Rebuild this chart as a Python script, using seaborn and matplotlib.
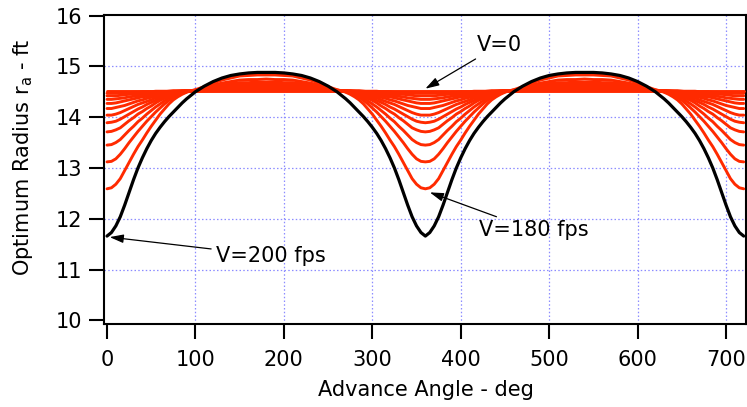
import numpy as np
import pandas as pd
import matplotlib
matplotlib.use("Agg")
import matplotlib.pyplot as plt
import seaborn as sns

# Advance angle samples over one half period (deg); every curve is symmetric
# about 180 deg and repeats every 360 deg.
half_angle = [0, 5, 10, 15, 20, 25, 30, 35, 40, 45, 50, 55, 60, 65, 70, 75,
              80, 85, 90, 95, 100, 110, 120, 130, 140, 150, 160, 170, 180]

# Optimum radius r_a (ft) for the family of speeds, V=0 (flat) up to V=180 fps
ra_red_00 = [14.52] * 29
ra_red_01 = [14.47, 14.47, 14.47, 14.48, 14.48, 14.48, 14.49, 14.49, 14.50, 14.50, 14.50, 14.51, 14.51, 14.51, 14.51,
             14.52, 14.52, 14.52, 14.52, 14.52, 14.52, 14.52, 14.52, 14.53, 14.53, 14.53, 14.53, 14.53, 14.53]
ra_red_02 = [14.42, 14.42, 14.42, 14.43, 14.44, 14.45, 14.46, 14.46, 14.47, 14.48, 14.48, 14.49, 14.50, 14.50, 14.51,
             14.51, 14.51, 14.52, 14.52, 14.52, 14.52, 14.52, 14.53, 14.53, 14.53, 14.53, 14.54, 14.54, 14.54]
ra_red_03 = [14.35, 14.35, 14.36, 14.37, 14.38, 14.40, 14.41, 14.42, 14.43, 14.45, 14.46, 14.47, 14.48, 14.49, 14.50,
             14.50, 14.51, 14.51, 14.52, 14.52, 14.52, 14.53, 14.53, 14.54, 14.54, 14.54, 14.55, 14.55, 14.55]
ra_red_04 = [14.27, 14.27, 14.28, 14.30, 14.32, 14.34, 14.36, 14.38, 14.40, 14.41, 14.43, 14.45, 14.46, 14.47, 14.49,
             14.50, 14.50, 14.51, 14.52, 14.52, 14.52, 14.53, 14.54, 14.55, 14.55, 14.56, 14.56, 14.56, 14.56]
ra_red_05 = [14.17, 14.17, 14.19, 14.21, 14.23, 14.26, 14.29, 14.32, 14.34, 14.37, 14.39, 14.41, 14.44, 14.46, 14.47,
             14.49, 14.50, 14.51, 14.51, 14.52, 14.52, 14.54, 14.55, 14.56, 14.57, 14.57, 14.57, 14.58, 14.58]
ra_red_06 = [14.04, 14.04, 14.06, 14.09, 14.13, 14.17, 14.21, 14.25, 14.28, 14.31, 14.34, 14.38, 14.40, 14.43, 14.46,
             14.47, 14.49, 14.50, 14.51, 14.52, 14.52, 14.54, 14.56, 14.57, 14.58, 14.59, 14.59, 14.60, 14.60]
ra_red_07 = [13.89, 13.90, 13.92, 13.96, 14.01, 14.06, 14.11, 14.16, 14.20, 14.25, 14.29, 14.33, 14.37, 14.40, 14.43,
             14.46, 14.48, 14.50, 14.51, 14.52, 14.52, 14.55, 14.57, 14.59, 14.60, 14.61, 14.62, 14.62, 14.62]
ra_red_08 = [13.71, 13.72, 13.75, 13.79, 13.86, 13.93, 13.99, 14.06, 14.11, 14.17, 14.22, 14.28, 14.33, 14.37, 14.41,
             14.44, 14.47, 14.49, 14.51, 14.52, 14.53, 14.56, 14.58, 14.61, 14.63, 14.64, 14.65, 14.65, 14.65]
ra_red_09 = [13.45, 13.46, 13.50, 13.56, 13.65, 13.74, 13.82, 13.91, 13.98, 14.06, 14.13, 14.20, 14.26, 14.32, 14.38,
             14.42, 14.46, 14.48, 14.50, 14.52, 14.53, 14.57, 14.60, 14.64, 14.66, 14.68, 14.68, 14.69, 14.69]
ra_red_10 = [13.12, 13.13, 13.18, 13.27, 13.38, 13.50, 13.61, 13.72, 13.82, 13.92, 14.01, 14.10, 14.18, 14.26, 14.33,
             14.39, 14.44, 14.47, 14.50, 14.52, 14.53, 14.58, 14.63, 14.67, 14.70, 14.73, 14.74, 14.74, 14.75]
ra_red_11 = [12.59, 12.61, 12.68, 12.79, 12.95, 13.11, 13.27, 13.42, 13.55, 13.69, 13.82, 13.94, 14.06, 14.16, 14.26,
             14.34, 14.40, 14.45, 14.49, 14.52, 14.54, 14.60, 14.67, 14.73, 14.77, 14.81, 14.82, 14.83, 14.83]

# V=200 fps
ra_black = [11.66, 11.73, 11.86, 12.04, 12.27, 12.52, 12.77, 13.00, 13.20, 13.38, 13.54, 13.68, 13.80, 13.91, 14.01,
            14.10, 14.19, 14.28, 14.36, 14.43, 14.50, 14.61, 14.70, 14.77, 14.82, 14.85, 14.87, 14.88, 14.88]

x_ticks = [0, 100, 200, 300, 400, 500, 600, 700]
y_ticks = [10, 11, 12, 13, 14, 15, 16]

RED = "#ff2a00"
GRID = "#8c8cff"


def sweep(values):
    """Unfold a half-period curve into the 0..720 deg sweep."""
    ang = list(half_angle) + [360 - a for a in reversed(half_angle[:-1])]
    val = list(values) + list(reversed(values[:-1]))
    ang2 = ang + [360 + a for a in ang[1:]]
    val2 = val + val[1:]
    return ang2, val2


red_sets = [ra_red_00, ra_red_01, ra_red_02, ra_red_03, ra_red_04, ra_red_05,
            ra_red_06, ra_red_07, ra_red_08, ra_red_09, ra_red_10, ra_red_11]
frames = []
for i, vals in enumerate(red_sets):
    a, v = sweep(vals)
    frames.append(pd.DataFrame({"angle": a, "ra": v, "curve": f"c{i:02d}"}))
df_red = pd.concat(frames, ignore_index=True)
a, v = sweep(ra_black)
df_black = pd.DataFrame({"angle": a, "ra": v})

sns.set_style("ticks")
plt.rcParams["font.family"] = ["DejaVu Sans"]
plt.rcParams["mathtext.fontset"] = "dejavusans"
plt.rcParams["text.color"] = "black"
plt.rcParams["axes.labelcolor"] = "black"
plt.rcParams["xtick.color"] = "black"
plt.rcParams["ytick.color"] = "black"

fig = plt.figure(figsize=(7.47, 4.07), dpi=100)
ax = fig.add_axes([104 / 747, 1 - 324 / 407, 641.5 / 747, 309 / 407])

sns.lineplot(data=df_red, x="angle", y="ra", hue="curve", palette=[RED] * len(red_sets),
             estimator=None, sort=False, legend=False, linewidth=2.1, ax=ax, zorder=3)
sns.lineplot(data=df_black, x="angle", y="ra", color="black", estimator=None, sort=False,
             linewidth=2.3, ax=ax, zorder=4)

ax.set_xlim(-3.4, 722)
ax.set_ylim(9.93, 16.01)
ax.set_xticks(x_ticks)
ax.set_yticks(y_ticks)

# dotted grid, skipping the lines that would sit on the axes
for xv in x_ticks[1:]:
    ax.axvline(xv, color=GRID, linestyle=(0, (1.2, 1.8)), linewidth=0.9, zorder=1)
for yv in y_ticks[1:-1]:
    ax.axhline(yv, color=GRID, linestyle=(0, (1.2, 1.8)), linewidth=0.9, zorder=1)

for s in ax.spines.values():
    s.set_linewidth(1.5)
    s.set_color("black")
ax.tick_params(direction="out", length=10.5, width=1.5, labelsize=15, colors="black")
ax.tick_params(axis="x", pad=8)
ax.tick_params(axis="y", pad=5)

ax.set_xlabel("Advance Angle - deg", fontsize=15, color="black")
ax.set_ylabel(r"Optimum Radius r$_{\mathregular{a}}$ - ft", fontsize=15, color="black")
ax.xaxis.set_label_coords(0.502, -0.18)
ax.yaxis.set_label_coords(-0.108, 0.54)

arrow = dict(arrowstyle="-|>,head_length=0.55,head_width=0.17", color="black",
             lw=0.9, mutation_scale=15, shrinkA=1, shrinkB=0)
ax.annotate("V=0", xy=(360, 14.56), xytext=(418, 15.42), ha="left", va="center",
            fontsize=15, color="black", arrowprops=arrow, zorder=6)
ax.annotate("V=180 fps", xy=(365, 12.52), xytext=(421, 11.77), ha="left", va="center",
            fontsize=15, color="black", arrowprops=arrow, zorder=6)
ax.annotate("V=200 fps", xy=(3, 11.64), xytext=(123, 11.27), ha="left", va="center",
            fontsize=15, color="black", arrowprops=arrow, zorder=6)

fig.savefig("out.png", dpi=100)
